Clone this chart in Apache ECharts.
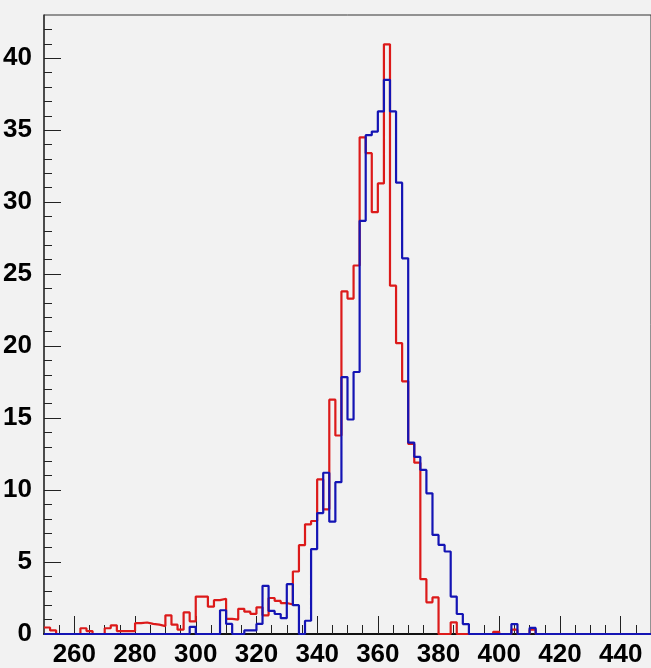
<!DOCTYPE html>
<html><head><meta charset="utf-8">
<script src="https://cdn.jsdelivr.net/npm/echarts@6/dist/echarts.min.js"></script>
<style>html,body{margin:0;padding:0;background:#f2f2f2;} #c{width:651px;height:668px;}</style>
</head><body><div id="c"></div>
<script>
// Histogram definition: 100 bins of width 2 from 250 to 450
const binStart = 250;
const binWidth = 2;
const redCounts = [
  0.45, 0.25, 0, 0, 0, 0, 0.4, 0.2, 0, 0,
  0.4, 0.6, 0.2, 0.2, 0.2, 0.75, 0.8, 0.7, 0.65, 0.55,
  1.3, 0.65, 0.3, 1.5, 0.88, 2.6, 2.6, 1.9, 2.35, 2.45,
  1.05, 1.0, 1.75, 1.55, 1.4, 1.85, 1.3, 2.5, 2.3, 2.15,
  2.05, 4.34, 6.17, 7.62, 7.85, 10.74, 8.66, 16.28, 13.79, 23.8,
  23.3, 25.6, 34.5, 33.4, 29.3, 31.3, 40.96, 24.2, 20.2, 17.55,
  13.2, 11.9, 3.81, 2.2, 2.54, 0, 0, 0.81, 0, 0,
  0, 0, 0, 0, 0.15, 0, 0, 0.3, 0, 0,
  0.3, 0, 0, 0, 0, 0, 0, 0, 0, 0,
  0, 0, 0, 0, 0, 0, 0, 0, 0, 0
];
const blueCounts = [
  0, 0, 0, 0, 0, 0, 0, 0, 0, 0,
  0, 0, 0, 0, 0, 0, 0, 0, 0, 0,
  0, 0, 0, 0, 0.5, 0, 0, 0, 0, 1.65,
  0.7, 0, 0, 0.25, 0.25, 0.7, 3.35, 1.6, 1.39, 1.1,
  3.46, 2.0, 0, 0.92, 5.9, 8.4, 11.2, 7.8, 10.55, 17.85,
  14.9, 18.2, 28.7, 34.65, 34.9, 36.3, 38.5, 36.3, 31.35, 26.1,
  13.3, 12.3, 11.4, 9.77, 6.88, 6.19, 5.73, 2.6, 1.39, 0.69,
  0, 0, 0, 0, 0, 0, 0, 0.69, 0, 0,
  0.42, 0, 0, 0, 0, 0, 0, 0, 0, 0,
  0, 0, 0, 0, 0, 0, 0, 0, 0, 0
];
const xMin = 250, xMax = 450;
const yMin = 0, yMax = 43.0;
const xMajorTicks = [260, 280, 300, 320, 340, 360, 380, 400, 420, 440];
const xMinorTicks = [255, 265, 270, 275, 285, 290, 295, 305, 310, 315, 325, 330, 335, 345, 350, 355, 365, 370, 375, 385, 390, 395, 405, 410, 415, 425, 430, 435, 445];
const yMajorTicks = [0, 5, 10, 15, 20, 25, 30, 35, 40];
const yMinorTicks = [1, 2, 3, 4, 6, 7, 8, 9, 11, 12, 13, 14, 16, 17, 18, 19, 21, 22, 23, 24, 26, 27, 28, 29, 31, 32, 33, 34, 36, 37, 38, 39, 41, 42];

function stepData(counts) {
  const d = counts.map((v, i) => [binStart + i * binWidth, v]);
  d.push([binStart + counts.length * binWidth, counts[counts.length - 1]]);
  return d;
}

const labelFont = {
  fontFamily: '"Liberation Sans Narrow", "Arial Narrow", "Liberation Sans", sans-serif',
  fontWeight: 'bold', fontSize: 26, color: '#000'
};
const tickStyle = { color: '#222', width: 1 };

const chart = echarts.init(document.getElementById('c'), null, { renderer: 'canvas' });
chart.setOption({
  backgroundColor: '#f2f2f2',
  animation: false,
  grid: { left: 44, right: -2, top: 15, bottom: 33, show: true, borderColor: '#333', borderWidth: 1, backgroundColor: 'transparent' },
  xAxis: [
    { type: 'value', min: xMin, max: xMax, position: 'bottom',
      axisLine: { show: true, onZero: false, lineStyle: { color: '#111', width: 2 } },
      axisTick: { show: true, inside: true, length: 18, customValues: xMajorTicks, lineStyle: tickStyle },
      axisLabel: Object.assign({ margin: 8, customValues: xMajorTicks }, labelFont),
      splitLine: { show: false } },
    { type: 'value', min: xMin, max: xMax, position: 'bottom',
      axisLine: { show: false },
      axisTick: { show: true, inside: true, length: 9, customValues: xMinorTicks, lineStyle: tickStyle },
      axisLabel: { show: false }, splitLine: { show: false } }
  ],
  yAxis: [
    { type: 'value', min: yMin, max: yMax, position: 'left',
      axisLine: { show: true, onZero: false, lineStyle: { color: '#333', width: 1.5 } },
      axisTick: { show: true, inside: true, length: 17, customValues: yMajorTicks, lineStyle: tickStyle },
      axisLabel: Object.assign({ margin: 12, customValues: yMajorTicks }, labelFont),
      splitLine: { show: false } },
    { type: 'value', min: yMin, max: yMax, position: 'left',
      axisLine: { show: false },
      axisTick: { show: true, inside: true, length: 8, customValues: yMinorTicks, lineStyle: tickStyle },
      axisLabel: { show: false }, splitLine: { show: false } }
  ],
  series: [
    { name: 'red', type: 'line', xAxisIndex: 0, yAxisIndex: 0, step: 'end', data: stepData(redCounts),
      symbol: 'none', clip: false, lineStyle: { color: '#dc1a1a', width: 2.2 }, z: 3 },
    { name: 'blue', type: 'line', xAxisIndex: 0, yAxisIndex: 0, step: 'end', data: stepData(blueCounts),
      symbol: 'none', clip: false, lineStyle: { color: '#1414b4', width: 2.2 }, z: 4 }
  ]
});
</script></body></html>
